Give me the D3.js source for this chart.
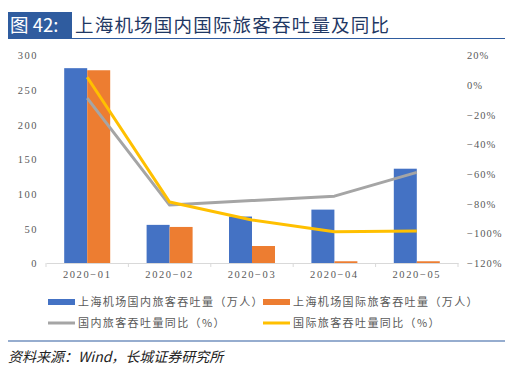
<!DOCTYPE html>
<html>
<head>
<meta charset="utf-8">
<script src="https://cdn.jsdelivr.net/npm/d3@7"></script>
<style>
  body { margin: 0; background: #fff; }
  svg { display: block; }
  .tick text { font-family: "Liberation Serif", "DejaVu Serif", serif; }
</style>
</head>
<body>
<svg id="chart" width="512" height="370"></svg>
<script>
// data
var months = ["2020-01", "2020-02", "2020-03", "2020-04", "2020-05"]
var domestic = [281, 55, 67, 77, 136]        // 上海机场国内旅客吞吐量（万人）
var intl = [278, 52, 24.5, 2.5, 2.5]          // 上海机场国际旅客吞吐量（万人）
var domesticYoy = [-9, -81, -78, -75, -59]    // 国内旅客吞吐量同比（%）
var intlYoy = [5, -79, -91, -99, -98.5]       // 国际旅客吞吐量同比（%）
var leftTicks = [0, 50, 100, 150, 200, 250, 300]
var rightTicks = [20, 0, -20, -40, -60, -80, -100, -120]

var blue = "#4472c4", orange = "#ed7d31", grey = "#a5a5a5", yellow = "#ffc000"
var cjk = "'Noto Sans CJK SC', sans-serif"

var svg = d3.select("#chart")

// title
svg.append("rect").attr("x", 8).attr("y", 12).attr("width", 64).attr("height", 26)
  .attr("fill", "#2f5c9f")
svg.append("text").attr("x", 10).attr("y", 32).text("图 42:")
  .attr("fill", "#fff").style("font-family", cjk).style("font-size", "18.5px")
svg.append("text").attr("x", 75).attr("y", 32).text("上海机场国内国际旅客吞吐量及同比")
  .attr("fill", "#1f3864").style("font-family", cjk).style("font-size", "18.5px")
  .style("letter-spacing", "1.2px")
svg.append("line").attr("x1", 8).attr("x2", 505).attr("y1", 38.5).attr("y2", 38.5)
  .attr("stroke", "#2f5c9f").attr("stroke-width", 1)

var pLeft = 46, pRight = 458, pTop = 55, pBottom = 263

var x = d3.scaleBand().domain(months).range([pLeft, pRight])
var xs = d3.scaleBand().domain(["d", "i"]).range([0, 46])
var y = d3.scaleLinear().domain([0, 300]).range([pBottom, pTop])
var y2 = d3.scaleLinear().domain([-120, 20]).range([pBottom, pTop])

var axisColor = "#595959"

var yAxis = svg.append("g").attr("transform", `translate(${pLeft - 8},0)`)
  .call(d3.axisLeft(y).tickValues(leftTicks).tickSize(0).tickPadding(0))
yAxis.select(".domain").remove()
yAxis.selectAll("text").attr("fill", axisColor).style("font-size", "10.5px")
  .style("letter-spacing", "1.5px").attr("dy", "0.35em")

var yAxis2 = svg.append("g").attr("transform", `translate(${pRight + 9},0)`)
  .call(d3.axisRight(y2).tickValues(rightTicks).tickSize(0).tickPadding(0)
    .tickFormat((d) => (d < 0 ? "\u2212" + (-d) : d) + "%"))
yAxis2.select(".domain").remove()
yAxis2.selectAll("text").attr("fill", axisColor).style("font-size", "10.5px")
  .style("letter-spacing", "1px").attr("dy", "0.35em")

// bars
var groups = svg.append("g").selectAll("g")
  .data(months).enter().append("g")
    .attr("transform", (d) => `translate(${x(d) + (x.bandwidth() - 46) / 2},0)`)

groups.append("rect")
  .attr("x", xs("d")).attr("width", xs.bandwidth())
  .attr("y", (d, i) => y(domestic[i])).attr("height", (d, i) => pBottom - y(domestic[i]))
  .attr("fill", blue)
groups.append("rect")
  .attr("x", xs("i")).attr("width", xs.bandwidth())
  .attr("y", (d, i) => y(intl[i])).attr("height", (d, i) => pBottom - y(intl[i]))
  .attr("fill", orange)

// x axis
var xAxis = svg.append("g").attr("transform", `translate(0,${pBottom})`)
  .call(d3.axisBottom(x).tickSize(0).tickPadding(8))
xAxis.select(".domain").attr("stroke", "#d9d9d9")
xAxis.selectAll("text").attr("fill", axisColor).style("font-size", "10.5px")
  .style("letter-spacing", "1.6px").text((d) => d.replace("-", "\u2212"))
svg.append("g").selectAll("line")
  .data(months.concat(["end"])).enter().append("line")
    .attr("x1", (d) => d == "end" ? pRight : x(d))
    .attr("x2", (d) => d == "end" ? pRight : x(d))
    .attr("y1", pBottom).attr("y2", pBottom + 4)
    .attr("stroke", "#d9d9d9")

// lines
var cx = (d) => x(d) + x.bandwidth() / 2
var line = (vals) => d3.line().x((d) => cx(d)).y((d, i) => y2(vals[i]))(months)

svg.append("path").attr("d", line(domesticYoy))
  .attr("fill", "none").attr("stroke", grey).attr("stroke-width", 3)
  .attr("stroke-linejoin", "round")
svg.append("path").attr("d", line(intlYoy))
  .attr("fill", "none").attr("stroke", yellow).attr("stroke-width", 3)
  .attr("stroke-linejoin", "round")

// legend
var legend = [
  {name: "上海机场国内旅客吞吐量（万人）", color: blue, x: 48, y: 302, bar: true},
  {name: "上海机场国际旅客吞吐量（万人）", color: orange, x: 263, y: 302, bar: true},
  {name: "国内旅客吞吐量同比（%）", color: grey, x: 48, y: 323, bar: false},
  {name: "国际旅客吞吐量同比（%）", color: yellow, x: 263, y: 323, bar: false}
]
var lg = svg.append("g").selectAll("g").data(legend).enter().append("g")
  .attr("transform", (d) => `translate(${d.x},${d.y})`)
lg.append("rect").attr("x", 0).attr("width", 27)
  .attr("y", (d) => d.bar ? -3 : -1.5).attr("height", (d) => d.bar ? 6 : 3)
  .attr("fill", (d) => d.color)
lg.append("text").attr("x", 30).attr("dy", "0.35em").text((d) => d.name)
  .attr("fill", axisColor).style("font-family", cjk).style("font-size", "11px")
  .style("letter-spacing", "1.4px")

// source
svg.append("line").attr("x1", 8).attr("x2", 505).attr("y1", 341).attr("y2", 341)
  .attr("stroke", "#2f5c9f").attr("stroke-width", 1.2)
svg.append("text").attr("x", 8).attr("y", 362).text("资料来源：Wind，长城证券研究所")
  .attr("fill", "#222").style("font-family", cjk).style("font-size", "14px")
  .style("font-style", "italic")
</script>
</body>
</html>
